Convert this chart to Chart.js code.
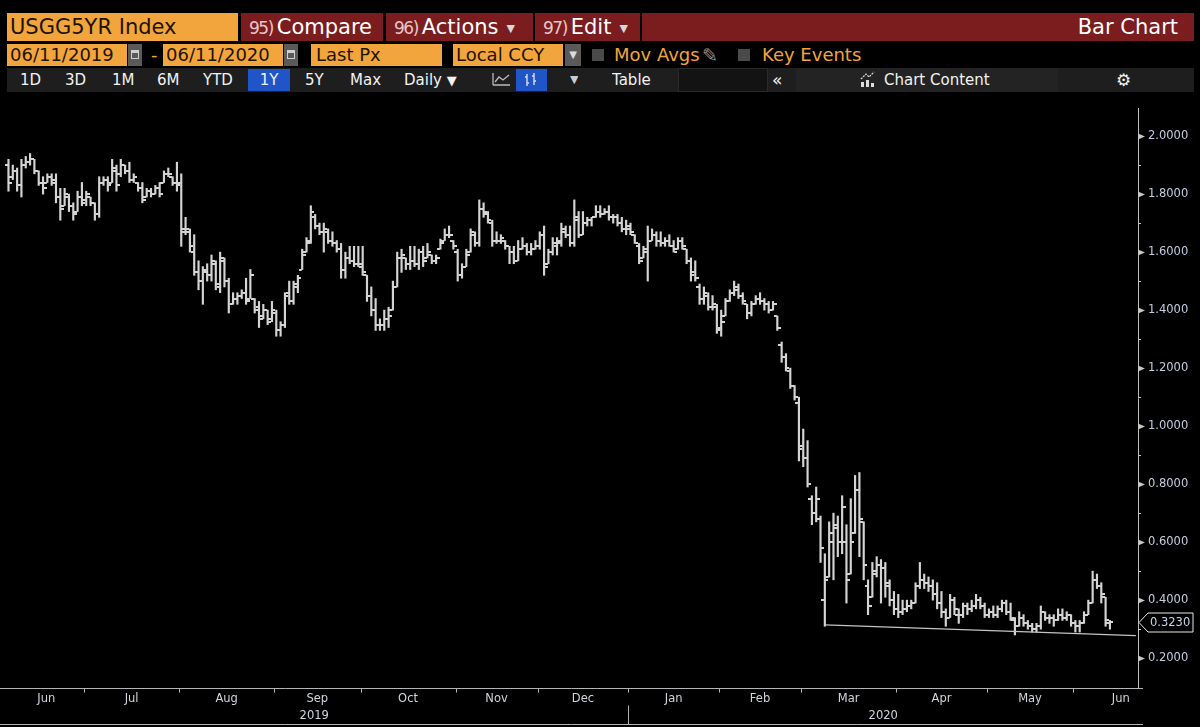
<!DOCTYPE html>
<html><head><meta charset="utf-8">
<script src="https://cdn.jsdelivr.net/npm/chart.js@4.4.1/dist/chart.umd.min.js"></script>
<style>
html,body{margin:0;padding:0;background:#000;}
body{width:1200px;height:727px;overflow:hidden;position:relative;font-family:"DejaVu Sans",sans-serif;}
.b{position:absolute;box-sizing:border-box;white-space:nowrap;overflow:hidden;}
.or{background:#f2a53c;color:#221300;}
.rd{background:#7b1c1e;color:#fff;}
.r1{top:13px;height:28px;line-height:28px;font-size:21px;}
.r2{top:44px;height:22px;line-height:22px;font-size:18px;}
.r3{top:68px;height:24px;line-height:24px;font-size:15px;color:#f2f2f2;}
.num{font-size:17px;color:#e9c6c6;letter-spacing:-1.5px;margin-right:4px;}
.dd{font-size:11px;color:#d8d8d8;margin-left:8px;vertical-align:2px;}
.cal{background:#5a5a5a;}
.cal i{position:absolute;left:3px;top:6px;width:8px;height:9px;border:1px solid #cfcfcf;box-sizing:border-box;border-top-width:3px;}
.chk{position:absolute;top:49px;width:12px;height:12px;background:#4a4a4a;}
.ot{color:#f2a53c;}
#wrap{position:absolute;left:0;top:92px;width:1200px;height:635px;}
</style></head>
<body>
<!-- row 1 -->
<div class="b or r1" style="left:7px;width:231px;padding-left:3px;">USGG5YR Index</div>
<div class="b rd r1" style="left:241px;width:142px;padding-left:8px;"><span class="num">95)</span>Compare</div>
<div class="b rd r1" style="left:386px;width:147px;padding-left:8px;"><span class="num">96)</span>Actions<span class="dd">▼</span></div>
<div class="b rd r1" style="left:535px;width:105px;padding-left:8px;"><span class="num">97)</span>Edit<span class="dd">▼</span></div>
<div class="b rd r1" style="left:642px;width:552px;text-align:right;padding-right:16px;">Bar Chart</div>
<!-- row 2 -->
<div class="b or r2" style="left:7px;width:120px;padding-left:3px;">06/11/2019</div>
<div class="b r2 cal" style="left:128px;width:14px;"><i></i></div>
<div class="b r2 ot" style="left:151px;width:10px;">-</div>
<div class="b or r2" style="left:163px;width:120px;padding-left:3px;">06/11/2020</div>
<div class="b r2 cal" style="left:284px;width:14px;"><i></i></div>
<div class="b or r2" style="left:311px;width:131px;padding-left:5px;">Last Px</div>
<div class="b or r2" style="left:453px;width:110px;padding-left:3px;">Local CCY</div>
<div class="b r2 cal" style="left:565px;width:16px;text-align:center;color:#ddd;font-size:10px;">▼</div>
<div class="chk" style="left:592px;"></div>
<div class="b r2 ot" style="left:614px;width:90px;">Mov Avgs</div>
<div class="b r2" style="left:702px;width:22px;color:#8c8c8c;font-size:19px;">✎</div>
<div class="chk" style="left:738px;"></div>
<div class="b r2 ot" style="left:762px;width:110px;">Key Events</div>
<!-- row 3 -->
<div class="b r3" style="left:7px;width:1187px;background:#1e1e1e;"></div>
<div class="b r3" style="left:678px;width:90px;background:#131313;border:1px solid #2a2a2a;"></div>
<div class="b r3" style="left:796px;width:262px;background:#232323;"></div>
<div class="b r3" style="left:20px;">1D</div>
<div class="b r3" style="left:65px;">3D</div>
<div class="b r3" style="left:112px;">1M</div>
<div class="b r3" style="left:157px;">6M</div>
<div class="b r3" style="left:203px;">YTD</div>
<div class="b r3" style="left:248px;width:42px;top:69px;height:22px;line-height:22px;background:#1f55c6;text-align:center;">1Y</div>
<div class="b r3" style="left:305px;">5Y</div>
<div class="b r3" style="left:350px;">Max</div>
<div class="b r3" style="left:404px;">Daily <span style="font-size:13px;">▼</span></div>
<div class="b r3" style="left:490px;width:22px;"><svg width="22" height="24"><path d="M3 17 L3 5 M3 17 L20 17 M5 14 L9 9 L13 12 L19 7" stroke="#bbb" stroke-width="1.3" fill="none"/></svg></div>
<div class="b r3" style="left:516px;width:31px;top:69px;height:22px;background:#1f55c6;"><svg width="31" height="22"><path d="M11 5 L11 17 M9 8 L11 8 M11 14 L13 14 M18 4 L18 16 M16 7 L18 7 M18 12 L20 12" stroke="#ddd" stroke-width="1.4" fill="none"/></svg></div>
<div class="b r3" style="left:570px;font-size:11px;color:#ccc;">▼</div>
<div class="b r3" style="left:612px;">Table</div>
<div class="b r3" style="left:772px;font-size:17px;">«</div>
<div class="b r3" style="left:858px;width:20px;"><svg width="20" height="24"><path d="M3 11 L8 6 L11 9 L16 4" stroke="#ddd" stroke-width="1.2" fill="none" stroke-dasharray="2 1"/><rect x="3" y="14" width="3" height="5" fill="#ddd"/><rect x="8" y="12" width="3" height="7" fill="#ddd"/><rect x="13" y="15" width="3" height="4" fill="#ddd"/></svg></div>
<div class="b r3" style="left:884px;">Chart Content</div>
<div class="b r3" style="left:1116px;font-size:17px;">⚙</div>

<div id="wrap"><canvas id="c" width="1200" height="635"></canvas></div>

<script>
// ---------- DATA ----------
const padBefore = ["2019-06-04"];
const padAfter = ["2020-06-12","2020-06-15","2020-06-16","2020-06-17","2020-06-18","2020-06-19"];
const tradingDays = [
"2019-06-05","2019-06-06","2019-06-07","2019-06-10","2019-06-11","2019-06-12","2019-06-13","2019-06-14","2019-06-17","2019-06-18","2019-06-19","2019-06-20","2019-06-21","2019-06-24","2019-06-25","2019-06-26","2019-06-27","2019-06-28",
"2019-07-01","2019-07-02","2019-07-03","2019-07-05","2019-07-08","2019-07-09","2019-07-10","2019-07-11","2019-07-12","2019-07-15","2019-07-16","2019-07-17","2019-07-18","2019-07-19","2019-07-22","2019-07-23","2019-07-24","2019-07-25","2019-07-26","2019-07-29","2019-07-30","2019-07-31",
"2019-08-01","2019-08-02","2019-08-05","2019-08-06","2019-08-07","2019-08-08","2019-08-09","2019-08-12","2019-08-13","2019-08-14","2019-08-15","2019-08-16","2019-08-19","2019-08-20","2019-08-21","2019-08-22","2019-08-23","2019-08-26","2019-08-27","2019-08-28","2019-08-29","2019-08-30",
"2019-09-03","2019-09-04","2019-09-05","2019-09-06","2019-09-09","2019-09-10","2019-09-11","2019-09-12","2019-09-13","2019-09-16","2019-09-17","2019-09-18","2019-09-19","2019-09-20","2019-09-23","2019-09-24","2019-09-25","2019-09-26","2019-09-27","2019-09-30",
"2019-10-01","2019-10-02","2019-10-03","2019-10-04","2019-10-07","2019-10-08","2019-10-09","2019-10-10","2019-10-11","2019-10-15","2019-10-16","2019-10-17","2019-10-18","2019-10-21","2019-10-22","2019-10-23","2019-10-24","2019-10-25","2019-10-28","2019-10-29","2019-10-30","2019-10-31",
"2019-11-01","2019-11-04","2019-11-05","2019-11-06","2019-11-07","2019-11-08","2019-11-12","2019-11-13","2019-11-14","2019-11-15","2019-11-18","2019-11-19","2019-11-20","2019-11-21","2019-11-22","2019-11-25","2019-11-26","2019-11-27","2019-11-29",
"2019-12-02","2019-12-03","2019-12-04","2019-12-05","2019-12-06","2019-12-09","2019-12-10","2019-12-11","2019-12-12","2019-12-13","2019-12-16","2019-12-17","2019-12-18","2019-12-19","2019-12-20","2019-12-23","2019-12-24","2019-12-26","2019-12-27","2019-12-30","2019-12-31",
"2020-01-02","2020-01-03","2020-01-06","2020-01-07","2020-01-08","2020-01-09","2020-01-10","2020-01-13","2020-01-14","2020-01-15","2020-01-16","2020-01-17","2020-01-21","2020-01-22","2020-01-23","2020-01-24","2020-01-27","2020-01-28","2020-01-29","2020-01-30","2020-01-31",
"2020-02-03","2020-02-04","2020-02-05","2020-02-06","2020-02-07","2020-02-10","2020-02-11","2020-02-12","2020-02-13","2020-02-14","2020-02-18","2020-02-19","2020-02-20","2020-02-21","2020-02-24","2020-02-25","2020-02-26","2020-02-27","2020-02-28",
"2020-03-02","2020-03-03","2020-03-04","2020-03-05","2020-03-06","2020-03-09","2020-03-10","2020-03-11","2020-03-12","2020-03-13","2020-03-16","2020-03-17","2020-03-18","2020-03-19","2020-03-20","2020-03-23","2020-03-24","2020-03-25","2020-03-26","2020-03-27","2020-03-30","2020-03-31",
"2020-04-01","2020-04-02","2020-04-03","2020-04-06","2020-04-07","2020-04-08","2020-04-09","2020-04-13","2020-04-14","2020-04-15","2020-04-16","2020-04-17","2020-04-20","2020-04-21","2020-04-22","2020-04-23","2020-04-24","2020-04-27","2020-04-28","2020-04-29","2020-04-30",
"2020-05-01","2020-05-04","2020-05-05","2020-05-06","2020-05-07","2020-05-08","2020-05-11","2020-05-12","2020-05-13","2020-05-14","2020-05-15","2020-05-18","2020-05-19","2020-05-20","2020-05-21","2020-05-22","2020-05-26","2020-05-27","2020-05-28","2020-05-29",
"2020-06-01","2020-06-02","2020-06-03","2020-06-04","2020-06-05","2020-06-08","2020-06-09","2020-06-10","2020-06-11"
];
const opens = [
1.90,1.86,1.88,1.83,1.90,1.91,1.92,1.88,1.84,1.84,1.86,1.85,1.79,1.76,1.79,1.76,1.74,1.79,
1.78,1.79,1.77,1.73,1.84,1.85,1.84,1.88,1.87,1.90,1.88,1.85,1.84,1.82,1.79,1.81,1.80,1.82,1.84,1.87,1.86,1.84,
1.84,1.68,1.67,1.60,1.53,1.50,1.53,1.52,1.56,1.48,1.57,1.50,1.42,1.44,1.45,1.46,1.44,1.44,1.41,1.38,1.40,1.37,
1.39,1.33,1.35,1.46,1.43,1.48,1.54,1.60,1.64,1.72,1.69,1.67,1.67,1.64,1.63,1.61,1.54,1.58,1.57,1.56,
1.56,1.52,1.45,1.40,1.35,1.35,1.37,1.40,1.48,1.58,1.58,1.56,1.57,1.56,1.60,1.58,1.59,1.57,1.61,1.64,1.66,1.64,
1.60,1.52,1.55,1.60,1.66,1.63,1.75,1.73,1.70,1.64,1.64,1.64,1.62,1.60,1.57,1.61,1.62,1.60,1.61,
1.62,1.66,1.56,1.60,1.62,1.63,1.67,1.66,1.63,1.72,1.66,1.70,1.71,1.72,1.74,1.73,1.74,1.72,1.72,1.70,1.68,
1.68,1.66,1.62,1.58,1.60,1.64,1.66,1.64,1.63,1.64,1.62,1.61,1.64,1.61,1.57,1.53,1.48,1.44,1.45,1.41,1.41,
1.34,1.38,1.43,1.46,1.48,1.45,1.42,1.39,1.42,1.44,1.43,1.42,1.40,1.38,1.28,1.24,1.19,1.14,1.08,
0.93,0.89,0.75,0.70,0.68,0.40,0.48,0.60,0.66,0.60,0.60,0.49,0.63,0.78,0.67,0.45,0.41,0.50,0.52,0.51,0.45,0.40,
0.37,0.36,0.37,0.38,0.39,0.45,0.47,0.46,0.45,0.42,0.39,0.36,0.34,0.40,0.35,0.35,0.38,0.37,0.38,0.40,0.38,
0.35,0.36,0.35,0.37,0.39,0.36,0.33,0.31,0.34,0.32,0.31,0.30,0.31,0.36,0.34,0.34,0.33,0.35,0.34,0.35,
0.32,0.31,0.32,0.35,0.39,0.47,0.45,0.41,0.32
];
const highs = [
1.92,1.90,1.89,1.92,1.93,1.94,1.92,1.88,1.86,1.87,1.87,1.87,1.82,1.82,1.80,1.77,1.81,1.84,
1.81,1.79,1.77,1.86,1.86,1.86,1.92,1.90,1.92,1.90,1.91,1.87,1.84,1.84,1.82,1.82,1.83,1.84,1.88,1.89,1.86,1.91,
1.87,1.72,1.68,1.66,1.57,1.55,1.56,1.59,1.57,1.60,1.58,1.51,1.46,1.46,1.47,1.51,1.54,1.44,1.43,1.42,1.40,1.43,
1.40,1.36,1.46,1.50,1.50,1.52,1.61,1.65,1.76,1.73,1.70,1.70,1.68,1.67,1.64,1.63,1.60,1.62,1.62,1.62,
1.62,1.52,1.48,1.44,1.37,1.40,1.41,1.50,1.60,1.61,1.58,1.62,1.62,1.61,1.62,1.63,1.59,1.59,1.645,1.68,1.69,1.64,
1.61,1.56,1.61,1.68,1.67,1.78,1.77,1.74,1.71,1.67,1.66,1.64,1.62,1.62,1.64,1.65,1.63,1.63,1.64,
1.67,1.69,1.61,1.65,1.65,1.70,1.69,1.69,1.78,1.74,1.74,1.72,1.72,1.76,1.76,1.75,1.76,1.73,1.73,1.72,1.71,
1.70,1.66,1.63,1.62,1.69,1.68,1.67,1.67,1.65,1.66,1.64,1.65,1.65,1.61,1.58,1.57,1.49,1.48,1.46,1.45,1.42,
1.40,1.44,1.47,1.50,1.49,1.46,1.42,1.43,1.45,1.46,1.44,1.43,1.43,1.38,1.29,1.25,1.20,1.14,1.10,
0.99,0.95,0.76,0.79,0.69,0.56,0.67,0.70,0.69,0.76,0.66,0.75,0.83,0.84,0.67,0.47,0.53,0.55,0.54,0.53,0.47,0.43,
0.42,0.40,0.40,0.40,0.46,0.53,0.49,0.48,0.47,0.46,0.43,0.37,0.42,0.41,0.37,0.39,0.39,0.40,0.42,0.41,0.39,
0.37,0.38,0.38,0.40,0.40,0.39,0.34,0.36,0.35,0.33,0.32,0.32,0.38,0.36,0.35,0.35,0.37,0.37,0.36,0.35,
0.33,0.33,0.36,0.40,0.50,0.49,0.46,0.41,0.33
];
const lows = [
1.81,1.85,1.81,1.79,1.89,1.90,1.87,1.83,1.80,1.84,1.83,1.77,1.71,1.76,1.74,1.71,1.74,1.76,
1.76,1.76,1.71,1.72,1.83,1.81,1.84,1.81,1.86,1.87,1.84,1.84,1.81,1.77,1.79,1.79,1.80,1.79,1.84,1.86,1.83,1.81,
1.62,1.66,1.60,1.52,1.47,1.42,1.50,1.50,1.47,1.46,1.48,1.39,1.42,1.42,1.44,1.42,1.44,1.39,1.34,1.37,1.35,1.36,
1.31,1.31,1.34,1.42,1.42,1.46,1.54,1.60,1.63,1.68,1.66,1.60,1.63,1.62,1.60,1.51,1.51,1.56,1.55,1.55,
1.52,1.43,1.38,1.33,1.33,1.33,1.34,1.40,1.48,1.53,1.54,1.54,1.55,1.54,1.55,1.58,1.56,1.56,1.61,1.64,1.65,1.61,
1.50,1.51,1.55,1.60,1.62,1.62,1.72,1.70,1.62,1.63,1.63,1.61,1.56,1.56,1.57,1.61,1.59,1.59,1.61,
1.61,1.52,1.56,1.59,1.59,1.62,1.65,1.62,1.62,1.65,1.66,1.69,1.69,1.72,1.72,1.73,1.71,1.70,1.69,1.67,1.66,
1.66,1.63,1.56,1.58,1.50,1.64,1.62,1.62,1.62,1.62,1.60,1.61,1.61,1.56,1.50,1.50,1.42,1.42,1.40,1.40,1.32,
1.31,1.38,1.43,1.45,1.44,1.42,1.37,1.38,1.42,1.42,1.40,1.39,1.40,1.33,1.22,1.19,1.13,1.09,0.88,
0.86,0.79,0.66,0.67,0.53,0.31,0.48,0.47,0.55,0.56,0.39,0.49,0.63,0.55,0.47,0.35,0.41,0.48,0.39,0.41,0.38,0.35,
0.34,0.35,0.36,0.37,0.39,0.44,0.44,0.43,0.40,0.37,0.34,0.31,0.34,0.35,0.32,0.34,0.35,0.36,0.37,0.37,0.34,
0.34,0.34,0.34,0.36,0.35,0.33,0.28,0.31,0.31,0.30,0.29,0.29,0.30,0.33,0.32,0.31,0.33,0.33,0.33,0.31,
0.29,0.29,0.32,0.35,0.39,0.44,0.39,0.31,0.30
];
const closes = [
1.84,1.88,1.83,1.90,1.91,1.92,1.88,1.84,1.82,1.86,1.84,1.79,1.75,1.80,1.76,1.73,1.79,1.77,
1.80,1.77,1.73,1.84,1.85,1.83,1.89,1.83,1.90,1.88,1.85,1.86,1.82,1.78,1.81,1.80,1.82,1.80,1.87,1.87,1.84,1.83,
1.67,1.68,1.62,1.53,1.50,1.54,1.52,1.57,1.49,1.58,1.50,1.42,1.44,1.45,1.46,1.43,1.52,1.40,1.37,1.40,1.36,1.40,
1.33,1.35,1.45,1.43,1.49,1.51,1.59,1.63,1.74,1.69,1.67,1.68,1.64,1.63,1.61,1.54,1.58,1.57,1.56,1.55,
1.53,1.45,1.40,1.35,1.35,1.37,1.38,1.48,1.58,1.59,1.56,1.57,1.56,1.60,1.57,1.60,1.57,1.58,1.63,1.66,1.66,1.62,
1.52,1.55,1.59,1.67,1.63,1.75,1.74,1.71,1.64,1.64,1.65,1.62,1.60,1.57,1.61,1.62,1.60,1.61,1.62,
1.66,1.55,1.60,1.63,1.64,1.68,1.66,1.63,1.71,1.66,1.70,1.71,1.72,1.74,1.73,1.74,1.72,1.72,1.70,1.68,1.69,
1.67,1.63,1.57,1.61,1.64,1.66,1.64,1.63,1.64,1.62,1.60,1.64,1.62,1.57,1.52,1.51,1.44,1.46,1.41,1.42,1.33,
1.36,1.43,1.46,1.47,1.45,1.43,1.39,1.42,1.44,1.43,1.42,1.40,1.42,1.34,1.24,1.20,1.14,1.10,0.92,
0.89,0.80,0.70,0.75,0.58,0.47,0.63,0.65,0.60,0.72,0.47,0.60,0.78,0.68,0.52,0.38,0.49,0.52,0.51,0.46,0.40,0.37,
0.36,0.37,0.38,0.39,0.45,0.47,0.46,0.45,0.42,0.39,0.36,0.34,0.40,0.37,0.35,0.38,0.37,0.38,0.40,0.38,0.35,
0.36,0.35,0.37,0.39,0.36,0.34,0.31,0.34,0.32,0.31,0.30,0.31,0.36,0.34,0.34,0.33,0.35,0.34,0.35,0.32,
0.31,0.32,0.35,0.39,0.47,0.45,0.42,0.33,0.323
];
// annotation trend line (drawn on the chart)
const trendDates = ["2020-03-09", "2020-06-19"];
const trendValues = [0.315, 0.278];
// y-axis ticks (labels on every other one)
const yTicks = [0.2,0.3,0.4,0.5,0.6,0.7,0.8,0.9,1.0,1.1,1.2,1.3,1.4,1.5,1.6,1.7,1.8,1.9,2.0];
const yMin = 0.0971, yMax = 2.0938;
const monthNames = ["Jan","Feb","Mar","Apr","May","Jun","Jul","Aug","Sep","Oct","Nov","Dec"];

// ---------- BUILD ----------
const labels = [...padBefore, ...tradingDays, ...padAfter];
const nb = padBefore.length, na = padAfter.length;
const pad = (arr) => [...Array(nb).fill(null), ...arr, ...Array(na).fill(null)];
const ranges = pad(tradingDays.map((d, i) => [lows[i], highs[i]]));
const BAR = '#d4d4d4';
function tickImg(left) {
  const c = document.createElement('canvas');
  c.width = 7; c.height = 2;
  const g = c.getContext('2d');
  g.fillStyle = BAR;
  if (left) g.fillRect(0, 0, 3, 2); else g.fillRect(4, 0, 3, 2);
  return c;
}
const openImg = tickImg(true), closeImg = tickImg(false);

const axisPlugin = {
  id: 'bbgAxes',
  afterDraw(chart) {
    const {ctx, chartArea: a, scales: {x, y}} = chart;
    ctx.save();
    // y tick marks
    ctx.fillStyle = '#c8c8c8'; ctx.strokeStyle = '#c8c8c8'; ctx.lineWidth = 1;
    yTicks.forEach(v => {
      const py = Math.round(y.getPixelForValue(v)) + 0.5;
      if (Math.round(v * 10) % 2 === 0) {
        ctx.beginPath(); ctx.moveTo(a.right, py - 3); ctx.lineTo(a.right + 7, py); ctx.lineTo(a.right, py + 3); ctx.closePath(); ctx.fill();
      } else {
        ctx.beginPath(); ctx.moveTo(a.right, py); ctx.lineTo(a.right + 3, py); ctx.stroke();
      }
    });
    // last price tag
    const last = closes[closes.length - 1];
    const ly = Math.round(y.getPixelForValue(last)) + 0.5;
    const bx = a.right + 6;
    ctx.beginPath();
    ctx.moveTo(a.right + 1, ly); ctx.lineTo(bx + 4, ly - 9.5); ctx.lineTo(bx + 49, ly - 9.5);
    ctx.lineTo(bx + 49, ly + 9.5); ctx.lineTo(bx + 4, ly + 9.5); ctx.closePath();
    ctx.fillStyle = '#000'; ctx.fill(); ctx.strokeStyle = '#e8e8e8'; ctx.stroke();
    ctx.fillStyle = '#c8d4ec'; ctx.font = '11.5px "DejaVu Sans"'; ctx.textBaseline = 'middle'; ctx.textAlign = 'left';
    ctx.fillText(last.toFixed(4), bx + 6, ly + 0.5);
    // x axis
    const yb = Math.round(a.bottom) + 0.5;
    ctx.strokeStyle = '#b4b4b4';
    ctx.beginPath(); ctx.moveTo(0, yb); ctx.lineTo(a.right + 5, yb); ctx.stroke();
    ctx.beginPath(); ctx.moveTo(0, yb + 36); ctx.lineTo(a.right + 5, yb + 36); ctx.stroke();
    const slot = x.getPixelForValue(1) - x.getPixelForValue(0);
    // month segments
    const segs = [];
    tradingDays.forEach((d, i) => {
      const key = d.slice(0, 7);
      if (!segs.length || segs[segs.length - 1].key !== key) segs.push({key, start: i + nb, end: i + nb});
      else segs[segs.length - 1].end = i + nb;
    });
    const bnd = idx => (x.getPixelForValue(idx) + x.getPixelForValue(idx - 1)) / 2;
    ctx.font = '11.5px "DejaVu Sans"'; ctx.fillStyle = '#d0d4dc'; ctx.textAlign = 'center'; ctx.textBaseline = 'middle';
    let yearSplit = null;
    segs.forEach((s, k) => {
      const left = k === 0 ? x.getPixelForValue(s.start) : bnd(s.start);
      const right = k === segs.length - 1 ? left + 22 * slot : bnd(s.end + 1);
      if (k > 0) {
        const px = Math.round(left) + 0.5;
        ctx.beginPath(); ctx.moveTo(px, yb); ctx.lineTo(px, yb + 4); ctx.stroke();
        if (s.key.endsWith('-01')) yearSplit = px;
      }
      ctx.fillText(monthNames[parseInt(s.key.slice(5), 10) - 1], (left + right) / 2, yb + 11);
    });
    if (yearSplit !== null) {
      ctx.beginPath(); ctx.moveTo(yearSplit, yb + 17); ctx.lineTo(yearSplit, yb + 36); ctx.stroke();
      ctx.fillText(tradingDays[0].slice(0, 4), yearSplit / 2, yb + 28);
      ctx.fillText(tradingDays[tradingDays.length - 1].slice(0, 4), (yearSplit + a.right) / 2, yb + 28);
    }
    ctx.restore();
  }
};

new Chart(document.getElementById('c'), {
  type: 'bar',
  data: {
    labels,
    datasets: [
      {type: 'bar', data: ranges, backgroundColor: BAR, borderWidth: 0, barThickness: 1.5, order: 3},
      {type: 'line', data: pad(opens), showLine: false, pointStyle: openImg, pointRadius: 1, pointHoverRadius: 1, order: 2},
      {type: 'line', data: pad(closes), showLine: false, pointStyle: closeImg, pointRadius: 1, pointHoverRadius: 1, order: 2},
      {type: 'line', data: trendDates.map((d, i) => ({x: d, y: trendValues[i]})), borderColor: '#c4c4c4', borderWidth: 1.3, pointRadius: 0, order: 1}
    ]
  },
  options: {
    responsive: false, animation: false, events: [],
    layout: {padding: {left: 0, right: 0, top: 0, bottom: 39}},
    plugins: {legend: {display: false}, tooltip: {enabled: false}},
    scales: {
      x: {display: false, offset: true},
      y: {
        position: 'right', min: yMin, max: yMax,
        afterFit: s => { s.width = 62; },
        afterBuildTicks: s => { s.ticks = yTicks.map(v => ({value: v})); },
        grid: {display: true, drawOnChartArea: false, drawTicks: false, color: 'rgba(0,0,0,0)'},
        border: {display: true, color: '#bdbdbd', width: 1},
        ticks: {
          autoSkip: false, padding: 10, color: '#c3cbe0',
          font: {family: 'DejaVu Sans', size: 11.5},
          callback: v => (Math.round(v * 10) % 2 === 0 ? Number(v).toFixed(4) : '')
        }
      }
    }
  },
  plugins: [axisPlugin]
});
</script>
</body></html>
